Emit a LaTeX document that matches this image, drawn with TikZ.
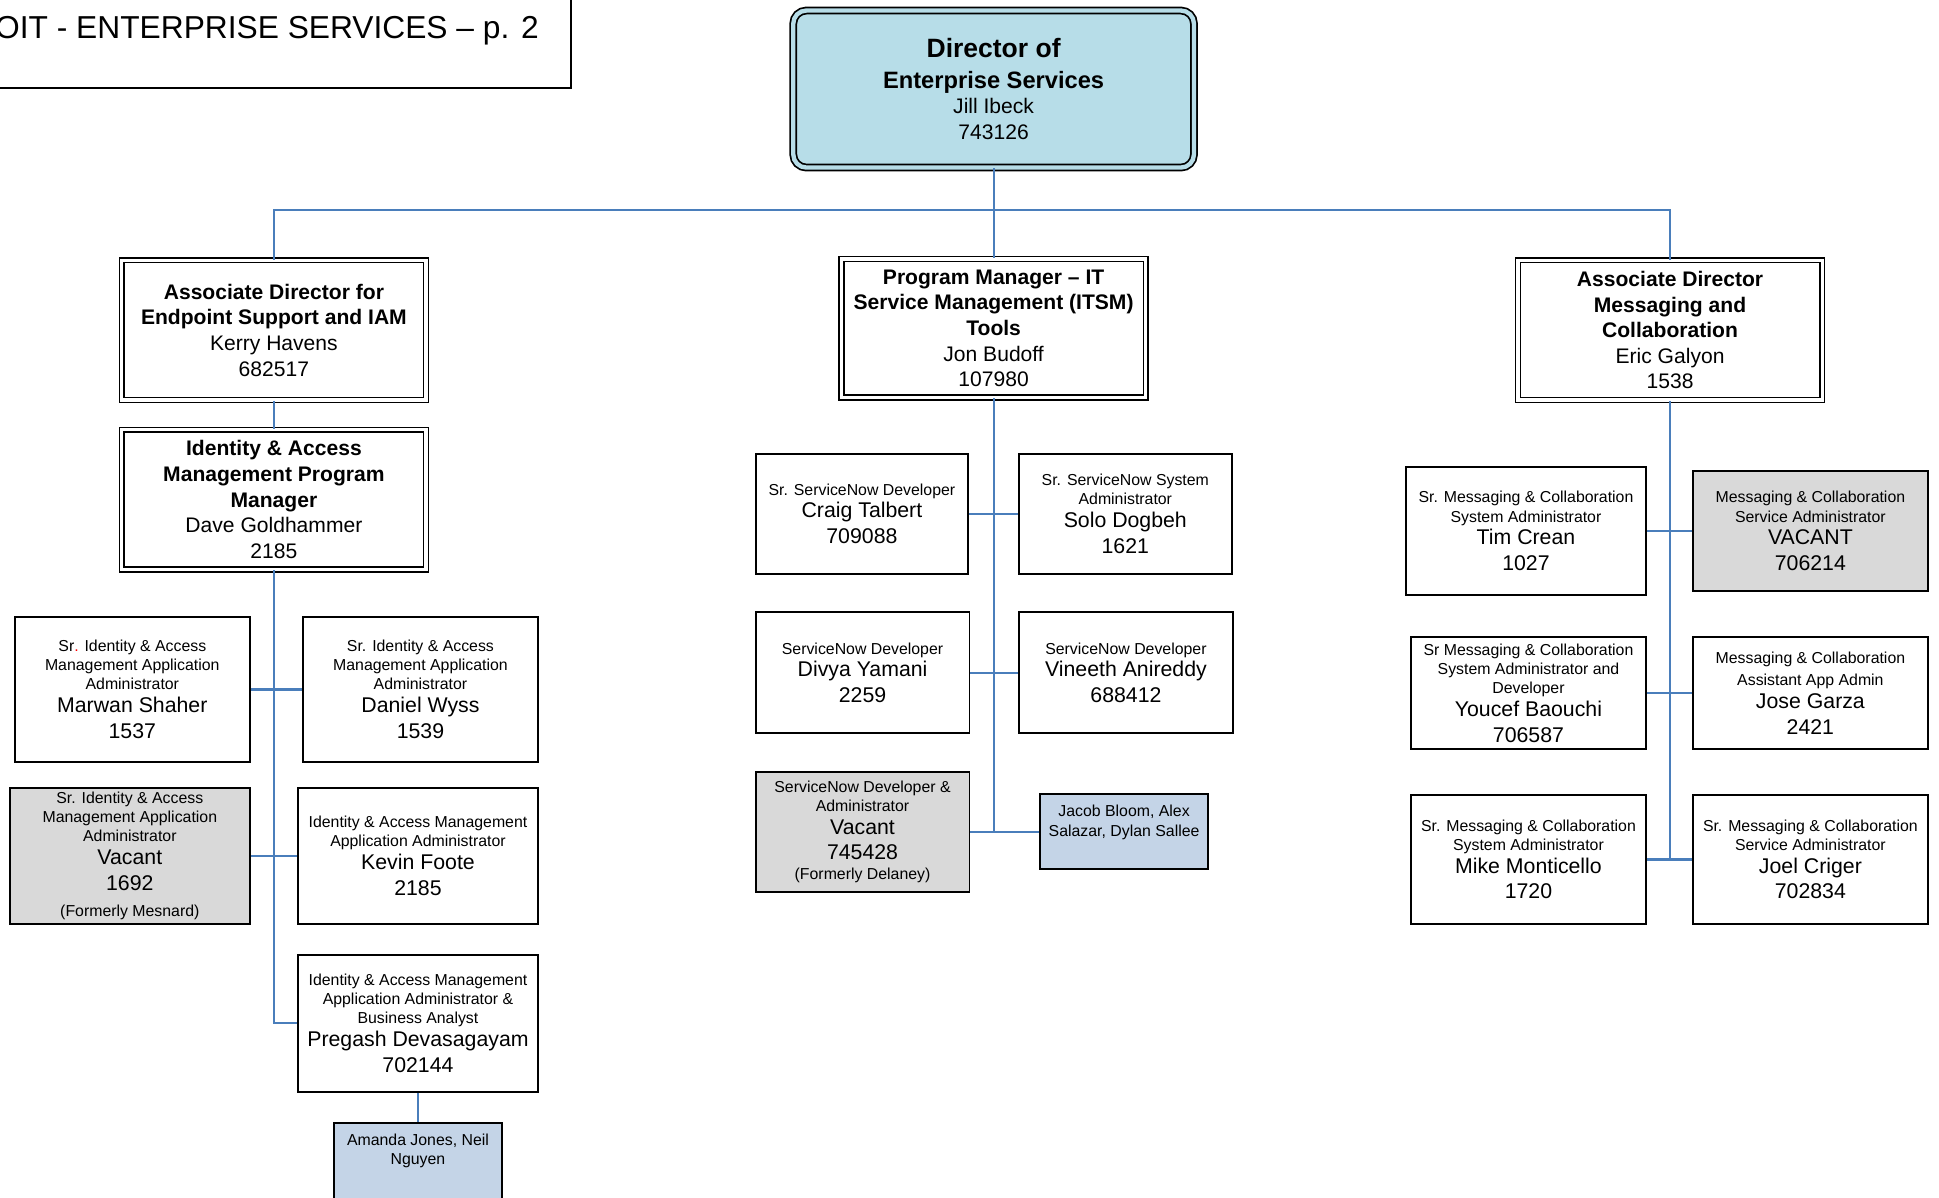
\documentclass[tikz,border=0pt]{standalone}
\usepackage{fontspec}
\setmainfont{Liberation Sans}
\usepackage{tikz}
\usetikzlibrary{shapes,arrows,positioning}

\definecolor{dirfill}{HTML}{B7DDE8}
\definecolor{vacfill}{HTML}{D9D9D9}
\definecolor{teamfill}{HTML}{C4D4E7}
\definecolor{linkblue}{HTML}{4A7EBB}

\tikzstyle{link} = [line width=1pt, draw=linkblue]
\tikzstyle{staff} = [draw, line width=0.9pt, fill=white]
\tikzstyle{vac} = [staff, fill=vacfill]
\tikzstyle{team} = [staff, fill=teamfill]
\tikzstyle{head} = [draw, fill=white, double=white, double distance=1.5pt, line width=0.7pt]

\newcommand{\titlefont}{\fontsize{14.6}{17}\selectfont}
\newcommand{\dirbigfont}{\normalfont\fontsize{12.2}{14.2}\selectfont\bfseries}
\newcommand{\dirfont}{\normalfont\fontsize{10.9}{14.2}\selectfont\bfseries}
\newcommand{\headfont}{\normalfont\fontsize{9.7}{11.8}\selectfont\bfseries}
\newcommand{\bossfont}{\normalfont\fontsize{9.7}{11.8}\selectfont}
\newcommand{\rolefont}{\normalfont\fontsize{7.3}{8.8}\selectfont}
\newcommand{\namefont}{\normalfont\fontsize{9.8}{10.4}\selectfont}
\newcommand{\numfont}{\normalfont\fontsize{9.8}{11.9}\selectfont}

\tikzset{sz/.code 2 args={%
    \pgfmathsetlengthmacro\boxw{#1*0.02cm}%
    \pgfmathsetlengthmacro\boxh{#2*0.02cm}%
    \pgfkeysalso{minimum width=\boxw, minimum height=\boxh, text width=\boxw}}}

\begin{document}
\begin{tikzpicture}[x=0.02cm, y=-0.02cm, every node/.style={align=flush center, inner xsep=0pt, inner ysep=2pt}]

    \useasboundingbox (0,0) rectangle (1568,968);
    \clip (0,0) rectangle (1568,968);

    % Page title
    \draw[line width=0.8pt] (-10,-10) rectangle (462,71);
    \node (ttl) [anchor=east] at (436,25) {\titlefont OIT - ENTERPRISE SERVICES – p. 2};

    % Define nodes (director and the three leads)
    \node (DIR) [head, fill=dirfill, double=dirfill, line width=0.8pt, double distance=2pt, rounded corners=6pt, sz={324}{127}] at (803.5,72)
        {\dirbigfont Director of\\ \dirfont Enterprise Services\\ \bossfont Jill Ibeck\\ \bossfont 743126\par};

    \node (AD1) [head, sz={246}{113}] at (221.5,267)
        {\headfont Associate Director for\\ \headfont Endpoint Support and IAM\\ \bossfont Kerry Havens\\ \bossfont 682517\par};
    \node (PM) [head, sz={246}{112}] at (803.5,265.5)
        {\headfont Program Manager – IT\\ \headfont Service Management (ITSM)\\ \headfont Tools\\ \bossfont Jon Budoff\\ \bossfont 107980\par};
    \node (AD2) [head, sz={246}{113}] at (1350.5,267)
        {\headfont Associate Director\\ \headfont Messaging and\\ \headfont Collaboration\\ \bossfont Eric Galyon\\ \bossfont 1538\par};
    \node (IAM) [head, sz={246}{113}] at (221.5,404)
        {\headfont Identity \& Access\\ \headfont Management Program\\ \headfont Manager\\ \bossfont Dave Goldhammer\\ \bossfont 2185\par};

    % IAM team
    \node (MS) [staff, sz={190}{117}] at (107,557.5)
        {\rolefont Sr\textcolor{red}{.} Identity \& Access\\ \rolefont Management Application\\ \rolefont Administrator\\ \namefont Marwan Shaher\\ \numfont 1537\par};
    \node (DW) [staff, sz={190}{117}] at (340,557.5)
        {\rolefont Sr. Identity \& Access\\ \rolefont Management Application\\ \rolefont Administrator\\ \namefont Daniel Wyss\\ \numfont 1539\par};
    \node (VM) [vac, sz={194}{110}] at (105,692)
        {\rolefont Sr. Identity \& Access\\ \rolefont Management Application\\ \rolefont Administrator\\ \namefont Vacant\\ \numfont 1692\\[3pt] \rolefont (Formerly Mesnard)\par};
    \node (KF) [staff, sz={194}{110}] at (338,692)
        {\rolefont Identity \& Access Management\\ \rolefont Application Administrator\\ \namefont Kevin Foote\\ \numfont 2185\par};
    \node (PD) [staff, sz={194}{111}] at (338,827.5)
        {\rolefont Identity \& Access Management\\ \rolefont Application Administrator \&\\ \rolefont Business Analyst\\ \namefont Pregash Devasagayam\\ \numfont 702144\par};
    \node (AJ) [team, sz={136}{82}] at (338,949)
        {\rolefont Amanda Jones, Neil\\ \rolefont Nguyen\rule[-22pt]{0pt}{0pt}\par};

    % ITSM team
    \node (CT) [staff, sz={172}{97}] at (697,415.5)
        {\rolefont Sr. ServiceNow Developer\\ \namefont Craig Talbert\\ \numfont 709088\par};
    \node (SD) [staff, sz={172}{97}] at (910,415.5)
        {\rolefont Sr. ServiceNow System\\ \rolefont Administrator\\ \namefont Solo Dogbeh\\ \numfont 1621\par};
    \node (DY) [staff, sz={173}{98}] at (697.5,544)
        {\rolefont ServiceNow Developer\\ \namefont Divya Yamani\\ \numfont 2259\par};
    \node (VA) [staff, sz={173}{98}] at (910.5,544)
        {\rolefont ServiceNow Developer\\ \namefont Vineeth Anireddy\\ \numfont 688412\par};
    \node (VD) [vac, sz={173}{97}] at (697.5,672.5)
        {\rolefont ServiceNow Developer \&\\ \rolefont Administrator\\ \namefont Vacant\\ \numfont 745428\\ \rolefont (Formerly Delaney)\par};
    \node (JB) [team, sz={136}{61}] at (909,672.5)
        {\rolefont Jacob Bloom, Alex\\ \rolefont Salazar, Dylan Sallee\rule[-10pt]{0pt}{0pt}\par};

    % Messaging team
    \node (TC) [staff, sz={194}{103}] at (1234,429.5)
        {\rolefont Sr. Messaging \& Collaboration\\ \rolefont System Administrator\\ \namefont Tim Crean\\ \numfont 1027\par};
    \node (VC) [vac, sz={190}{97}] at (1464,429.5)
        {\rolefont Messaging \& Collaboration\\ \rolefont Service Administrator\\ \namefont VACANT\\ \numfont 706214\par};
    \node (YB) [staff, sz={190}{91}] at (1236,560.5)
        {\rolefont Sr Messaging \& Collaboration\\ \rolefont System Administrator and\\ \rolefont Developer\\ \namefont Youcef Baouchi\\ \numfont 706587\par};
    \node (JG) [staff, sz={190}{91}] at (1464,560.5)
        {\rolefont Messaging \& Collaboration\\[1.5pt] \rolefont Assistant App Admin\\ \namefont Jose Garza\\ \numfont 2421\par};
    \node (MM) [staff, sz={190}{104}] at (1236,695)
        {\rolefont Sr. Messaging \& Collaboration\\ \rolefont System Administrator\\ \namefont Mike Monticello\\ \numfont 1720\par};
    \node (JC) [staff, sz={190}{104}] at (1464,695)
        {\rolefont Sr. Messaging \& Collaboration\\ \rolefont Service Administrator\\ \namefont Joel Criger\\ \numfont 702834\par};

    % Reporting lines
    \coordinate (hub) at (803.5,170);
    \draw[link] (DIR.south) -- (hub);
    \draw[link] (hub) -| (AD1.north);
    \draw[link] (hub) -- (PM.north);
    \draw[link] (hub) -| (AD2.north);

    \draw[link] (AD1) -- (IAM);
    \draw[link] (IAM.south) |- (PD.west);
    \draw[link] (PD) -- (AJ);
    \draw[link] (PM.south) -- (PM.south |- VD.east);
    \draw[link] (AD2.south) -- (AD2.south |- MM.east);

    \foreach \X/\Y in {MS/DW, VM/KF, CT/SD, DY/VA, VD/JB, TC/VC, YB/JG, MM/JC} {
        \draw[link] (\X) -- (\Y);
    }

\end{tikzpicture}
\end{document}
